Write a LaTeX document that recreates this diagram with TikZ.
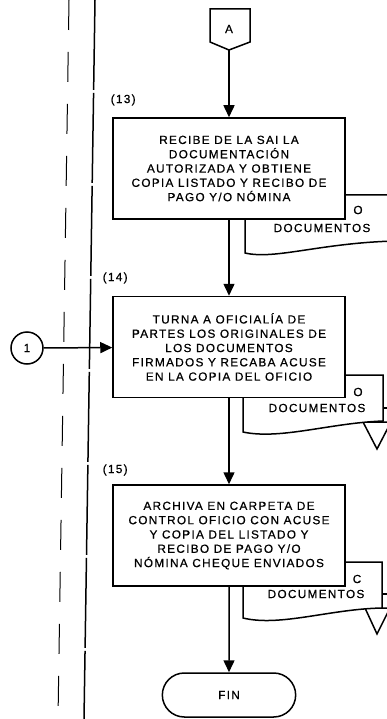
\documentclass[tikz,border=0pt]{standalone}
\usepackage{fontspec}
\setmainfont{Liberation Sans}[LetterSpace=11,FakeBold=0.6]
\usetikzlibrary{arrows.meta,positioning,shapes.misc}

\begin{document}
\begin{tikzpicture}[x=1pt,y=-1pt,
  font=\fontsize{11.8}{14.3}\selectfont, >={Triangle[length=12pt,width=11pt]}, line width=1.5pt,
  activity/.style={rectangle, minimum width=232pt, minimum height=101pt, draw=black, fill=white, align=center, inner sep=2pt},
  terminal/.style={rounded rectangle, minimum width=140pt, minimum height=44pt, draw=black, fill=white},
  connector/.style={circle, minimum size=32pt, draw=black, fill=white, inner sep=0pt},
  document/.style={draw=black, fill=white},
  steplabel/.style={anchor=west, inner sep=0pt}
]
\clip (0,0) rectangle (387,719);

% lanes
\draw[dash pattern=on 90pt off 3pt] (95,0) -- (84,719);
\draw[line width=1pt, dash pattern=on 30pt off 22pt] (69,0) -- (58,719);

% off-page connector
\draw (210,9) -- (250,9) -- (250,42) -- (229,50) -- (210,42) -- cycle;
\node (conA) at (229,29) {A};
\coordinate (conAtip) at (229,50);

% documents
\draw[document] (245,195) -- (395,195) -- (395,241) .. controls (320,243) and (275,260) .. (245,253) -- cycle;

\draw[document] (363,422) -- (377,449) -- (391,422) -- cycle;
\draw (383,408) -- (392,408);
\draw[document] (243,375) -- (383,375) -- (383,421) .. controls (330,423) and (280,440) .. (243,432) -- cycle;

\draw[document] (365,608) -- (377,634) -- (390,608) -- cycle;
\draw (382,594) -- (392,594);
\draw[document] (243,562) -- (382,562) -- (382,608) .. controls (330,609) and (280,627) .. (243,618) -- cycle;

\node (o13) at (358,210) {O};
\node (d13) at (322,228) {DOCUMENTOS};
\node (o14) at (358,392) {O};
\node (d14) at (317,408) {DOCUMENTOS};
\node (c15) at (357,579) {C};
\node (d15) at (316,594) {DOCUMENTOS};

% activities
\node[steplabel] (l13) at (110,100) {(13)};
\node[activity] (act13) at (229,168.5) {RECIBE DE LA SAI LA\\DOCUMENTACIÓN\\AUTORIZADA Y OBTIENE\\COPIA LISTADO Y RECIBO DE\\PAGO Y/O NÓMINA};

\node[steplabel] (l14) at (102,278) {(14)};
\node[activity] (act14) at (229,347) {TURNA A OFICIALÍA DE\\PARTES LOS ORIGINALES DE\\LOS DOCUMENTOS\\FIRMADOS Y RECABA ACUSE\\EN LA COPIA DEL OFICIO};

\node[steplabel] (l15) at (102,470) {(15)};
\node[activity] (act15) at (229,535.5) {ARCHIVA EN CARPETA DE\\CONTROL OFICIO CON ACUSE\\Y COPIA DEL LISTADO Y\\RECIBO DE PAGO Y/O\\NÓMINA CHEQUE ENVIADOS};

\node[terminal] (fin) at (229,695) {FIN};
\node[connector] (con1) at (27,348) {1};

\draw[->] (conAtip) -- (act13);
\draw[->] (act13) -- (act14);
\draw[->] (act14) -- (act15);
\draw[->] (act15) -- (fin);
\draw[->] (con1) -- (act14);
\end{tikzpicture}
\end{document}
